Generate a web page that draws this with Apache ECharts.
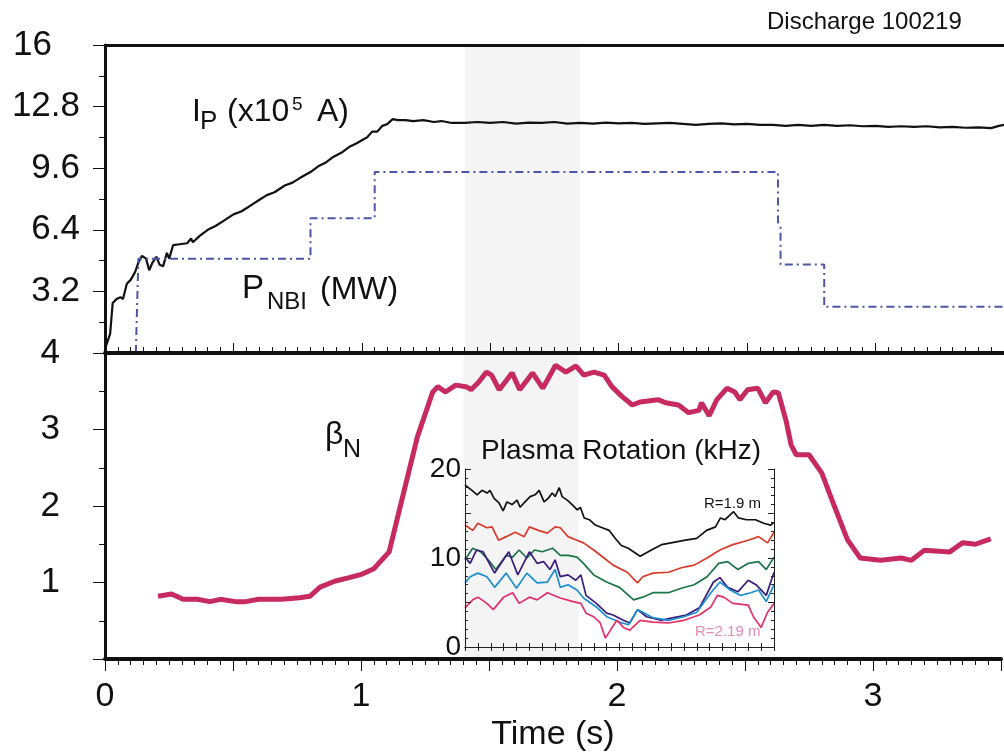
<!DOCTYPE html>
<html>
<head>
<meta charset="utf-8">
<title>Discharge 100219</title>
<script src="https://cdn.jsdelivr.net/npm/echarts@6/dist/echarts.min.js"></script>
<style>
  html, body { margin: 0; padding: 0; background: #fff; }
  #chart { width: 1004px; height: 753px; }
</style>
</head>
<body>
<div id="chart"></div>
<script>
// --- data ---
// plasma current, x10^5 A  [time s, value]
const ipData = [
  [0, 0.2], [0.01, 0.6], [0.02, 1.0], [0.03, 2.6], [0.045, 2.8], [0.06, 2.9], [0.07, 2.8],
  [0.085, 3.6], [0.1, 3.8], [0.117, 4.2], [0.13, 4.7], [0.144, 5.05], [0.16, 4.9], [0.172, 4.3],
  [0.185, 4.7], [0.2, 5.0], [0.212, 4.6], [0.226, 4.5], [0.241, 5.2], [0.25, 4.9], [0.265, 5.6],
  [0.29, 5.65], [0.32, 5.7], [0.335, 5.95], [0.342, 5.75], [0.37, 6.1], [0.4, 6.4], [0.43, 6.6],
  [0.46, 6.85], [0.5, 7.2], [0.53, 7.35], [0.56, 7.6], [0.6, 7.95], [0.63, 8.2], [0.66, 8.35],
  [0.7, 8.7], [0.73, 8.85], [0.76, 9.1], [0.8, 9.4], [0.83, 9.7], [0.86, 9.9], [0.89, 10.2],
  [0.92, 10.4], [0.95, 10.7], [0.98, 10.9], [1.0, 11.05], [1.02, 11.2], [1.04, 11.5], [1.06, 11.5],
  [1.08, 11.8], [1.1, 11.9], [1.12, 12.15], [1.14, 12.1], [1.17, 12.1], [1.2, 12.05], [1.24, 12.1],
  [1.28, 12.0], [1.31, 12.05], [1.35, 11.95], [1.4, 11.95], [1.45, 12.0], [1.5, 11.95], [1.55, 12.0],
  [1.6, 11.92], [1.65, 11.97], [1.7, 11.95], [1.75, 12.0], [1.8, 11.92], [1.85, 11.95], [1.9, 11.92],
  [1.95, 11.97], [2.0, 11.93], [2.05, 11.95], [2.1, 11.9], [2.15, 11.93], [2.2, 11.95], [2.25, 11.9],
  [2.3, 11.85], [2.35, 11.9], [2.4, 11.93], [2.45, 11.88], [2.5, 11.9], [2.55, 11.85], [2.6, 11.85],
  [2.65, 11.8], [2.7, 11.85], [2.75, 11.8], [2.8, 11.85], [2.85, 11.8], [2.9, 11.83], [2.95, 11.78],
  [3.0, 11.8], [3.05, 11.75], [3.1, 11.78], [3.15, 11.75], [3.2, 11.78], [3.25, 11.72], [3.3, 11.75],
  [3.35, 11.7], [3.4, 11.72], [3.45, 11.68], [3.48, 11.8], [3.5, 11.85]
];

// neutral beam power, MW
const pnbiData = [
  [0.12, 0], [0.13, 4.9], [0.8, 4.9], [0.8, 7.0], [1.05, 7.0], [1.05, 9.4], [2.62, 9.4],
  [2.62, 6.8], [2.63, 6.6], [2.63, 4.6], [2.8, 4.6], [2.8, 2.4], [3.5, 2.4]
];

// normalized beta
const betaNData = [
  [0.207, 0.82], [0.26, 0.85], [0.305, 0.78], [0.36, 0.78], [0.41, 0.75], [0.45, 0.78], [0.51, 0.75],
  [0.55, 0.75], [0.6, 0.78], [0.69, 0.78], [0.76, 0.8], [0.8, 0.82], [0.84, 0.94], [0.9, 1.02],
  [0.95, 1.06], [1.005, 1.11], [1.05, 1.18], [1.11, 1.4], [1.15, 1.95], [1.22, 2.9], [1.28, 3.49],
  [1.3, 3.56], [1.33, 3.49], [1.37, 3.58], [1.41, 3.56], [1.43, 3.52], [1.46, 3.62], [1.49, 3.75],
  [1.51, 3.71], [1.54, 3.52], [1.59, 3.74], [1.62, 3.52], [1.67, 3.74], [1.71, 3.54], [1.76, 3.84],
  [1.8, 3.75], [1.84, 3.83], [1.87, 3.71], [1.91, 3.75], [1.95, 3.71], [1.98, 3.56], [2.02, 3.43],
  [2.06, 3.32], [2.09, 3.36], [2.16, 3.39], [2.19, 3.35], [2.24, 3.32], [2.28, 3.22], [2.32, 3.25],
  [2.33, 3.35], [2.36, 3.18], [2.39, 3.39], [2.43, 3.54], [2.46, 3.49], [2.48, 3.39], [2.51, 3.52],
  [2.55, 3.54], [2.58, 3.35], [2.61, 3.49], [2.63, 3.48], [2.66, 3.12], [2.68, 2.8], [2.7, 2.67],
  [2.75, 2.67], [2.8, 2.43], [2.85, 1.99], [2.9, 1.56], [2.95, 1.32], [3.03, 1.29], [3.11, 1.32],
  [3.15, 1.29], [3.2, 1.42], [3.3, 1.4], [3.35, 1.52], [3.4, 1.5], [3.46, 1.57]
];

// plasma rotation (kHz), six radii, R=1.9 m at top to R=2.19 m at bottom
const rot1 = [
  [1.4, 18.2], [1.427, 17.6], [1.447, 17.1], [1.466, 17.6], [1.486, 17.3], [1.497, 17.6],
  [1.513, 16.7], [1.532, 16.2], [1.548, 15.3], [1.563, 16.3], [1.583, 16.0], [1.602, 16.5],
  [1.614, 15.7], [1.633, 16.3], [1.653, 16.9], [1.672, 17.1], [1.688, 17.6], [1.707, 16.3],
  [1.723, 16.7], [1.739, 17.3], [1.75, 16.9], [1.766, 17.9], [1.777, 16.9], [1.797, 16.5],
  [1.816, 16.0], [1.836, 15.4], [1.848, 15.7], [1.863, 14.5], [1.883, 14.3], [1.906, 13.7],
  [1.933, 13.4], [1.96, 13.1], [1.984, 12.2], [2.007, 11.4], [2.034, 11.1], [2.08, 10.2],
  [2.124, 10.9], [2.163, 11.5], [2.2, 11.7], [2.256, 12.0], [2.3, 12.2], [2.338, 13.1],
  [2.373, 13.5], [2.392, 14.5], [2.41, 14.3], [2.443, 15.2], [2.462, 14.5], [2.493, 14.3],
  [2.528, 14.3], [2.56, 13.9], [2.587, 13.7], [2.6, 14.0]
];
const rot2 = [
  [1.4, 13.7], [1.43, 13.1], [1.45, 13.9], [1.485, 13.4], [1.505, 13.5], [1.53, 12.0], [1.56, 12.4],
  [1.595, 12.9], [1.63, 12.4], [1.65, 13.5], [1.685, 13.1], [1.72, 12.8], [1.75, 13.5], [1.77, 13.4],
  [1.8, 12.4], [1.835, 12.0], [1.86, 11.7], [1.9, 10.9], [1.94, 10.0], [1.975, 9.2], [2.03, 8.4],
  [2.07, 7.2], [2.09, 7.9], [2.13, 8.3], [2.19, 8.4], [2.24, 8.9], [2.29, 9.2], [2.34, 10.0],
  [2.39, 10.9], [2.44, 11.5], [2.5, 12.0], [2.54, 12.4], [2.575, 11.7], [2.6, 12.9]
];
const rot3 = [
  [1.4, 9.8], [1.43, 11.1], [1.46, 10.7], [1.49, 9.8], [1.52, 8.7], [1.56, 10.3], [1.585, 10.1],
  [1.61, 10.9], [1.64, 10.0], [1.67, 10.9], [1.7, 10.7], [1.74, 11.1], [1.77, 10.3], [1.8, 10.3],
  [1.835, 10.1], [1.86, 9.4], [1.9, 8.1], [1.95, 7.3], [2.0, 6.7], [2.055, 5.3], [2.09, 5.6],
  [2.13, 6.1], [2.19, 6.1], [2.24, 6.6], [2.29, 7.0], [2.34, 7.9], [2.385, 9.4], [2.42, 9.6],
  [2.46, 8.7], [2.5, 9.4], [2.54, 9.6], [2.57, 8.7], [2.6, 10.1]
];
const rot4 = [
  [1.4, 10.1], [1.42, 9.4], [1.445, 10.9], [1.47, 10.7], [1.515, 8.3], [1.57, 10.7], [1.605, 8.1],
  [1.65, 10.7], [1.68, 9.4], [1.705, 9.6], [1.73, 8.7], [1.75, 9.8], [1.77, 7.9], [1.8, 8.1],
  [1.83, 7.5], [1.85, 8.1], [1.87, 5.8], [1.91, 4.9], [1.95, 3.8], [1.975, 3.6], [2.015, 3.0],
  [2.04, 2.7], [2.07, 4.2], [2.105, 3.4], [2.16, 3.0], [2.21, 3.3], [2.26, 3.6], [2.31, 4.4],
  [2.365, 7.3], [2.39, 7.8], [2.42, 6.7], [2.46, 6.2], [2.5, 7.5], [2.53, 7.0], [2.57, 5.8], [2.6, 8.4]
];
const rot5 = [
  [1.4, 7.2], [1.42, 7.9], [1.45, 8.3], [1.485, 7.9], [1.515, 6.7], [1.56, 8.3], [1.6, 6.6],
  [1.64, 8.3], [1.68, 7.2], [1.72, 7.3], [1.75, 8.7], [1.77, 6.7], [1.8, 7.0], [1.835, 6.4],
  [1.86, 5.5], [1.91, 4.5], [1.95, 3.4], [2.0, 2.8], [2.035, 2.5], [2.07, 4.2], [2.13, 3.3],
  [2.19, 3.0], [2.25, 3.4], [2.3, 3.9], [2.355, 6.1], [2.39, 7.3], [2.43, 6.4], [2.47, 5.8],
  [2.51, 6.1], [2.54, 6.4], [2.57, 5.1], [2.6, 7.0]
];
const rot6 = [
  [1.4, 4.4], [1.43, 5.3], [1.45, 5.6], [1.485, 4.9], [1.51, 4.2], [1.55, 5.6], [1.585, 6.1],
  [1.61, 4.9], [1.65, 5.6], [1.68, 5.3], [1.72, 6.1], [1.77, 5.5], [1.82, 5.1], [1.85, 4.9],
  [1.87, 3.8], [1.9, 3.4], [1.925, 2.7], [1.945, 1.0], [1.965, 1.9], [1.99, 3.0], [2.015, 2.2],
  [2.04, 1.9], [2.08, 3.0], [2.13, 2.8], [2.19, 2.7], [2.25, 3.0], [2.31, 3.6], [2.355, 4.5],
  [2.38, 5.8], [2.405, 5.6], [2.44, 4.9], [2.5, 4.7], [2.52, 3.4], [2.55, 2.2], [2.575, 3.9], [2.6, 4.9]
];
const rotColors = ['#111111', '#d93a2b', '#1b7549', '#3b1c7a', '#1b8fd2', '#e2306b'];

// time window shaded in grey
const shadeWindow = [1.4, 1.85];

const topTicks = [3.2, 6.4, 9.6, 12.8, 16];

const FONT = '"Liberation Sans", Arial, Helvetica, sans-serif';
const INK = '#111';

const myChart = echarts.init(document.getElementById('chart'));

const shade = {
  silent: true,
  itemStyle: { color: '#f4f4f4' },
  data: [[{ xAxis: shadeWindow[0] }, { xAxis: shadeWindow[1] }]]
};

// free text labels (sub/superscripts are separate pieces)
const txt = (text, x, y, size, color) => ({
  type: 'text',
  x: x,
  y: y,
  z: 20,
  style: {
    text: text,
    fill: color || INK,
    font: size + 'px ' + FONT,
    verticalAlign: 'middle'
  }
});

const option = {
  animation: false,
  backgroundColor: '#fff',
  grid: [
    { left: 105, top: 45, right: 0, height: 308 },
    { left: 105, top: 353, right: 0, height: 306 },
    { left: 465, top: 469, width: 309, height: 178 }
  ],
  xAxis: [
    {
      // divider between the two panels, ticks point up
      gridIndex: 0, type: 'value', min: 0, max: 3.5, interval: 0.5, position: 'bottom', z: 10,
      axisLine: { lineStyle: { color: INK, width: 4 } },
      axisTick: { inside: true, length: 10, lineStyle: { color: INK, width: 1 } },
      minorTick: { show: true, splitNumber: 10, length: 6, lineStyle: { color: INK, width: 1 } },
      axisLabel: { show: false },
      splitLine: { show: false }
    },
    {
      gridIndex: 0, type: 'value', min: 0, max: 3.5, position: 'top', z: 10,
      axisLine: { lineStyle: { color: INK, width: 3 } },
      axisTick: { show: false }, axisLabel: { show: false }, splitLine: { show: false }
    },
    {
      gridIndex: 1, type: 'value', min: 0, max: 3.5, interval: 0.5, position: 'bottom', z: 10,
      name: 'Time (s)', nameLocation: 'middle', nameGap: 59,
      nameTextStyle: { fontFamily: FONT, fontSize: 34, color: INK },
      axisLine: { lineStyle: { color: INK, width: 4 } },
      axisTick: { length: 12, lineStyle: { color: INK, width: 1 } },
      minorTick: { show: true, splitNumber: 10, length: 6, lineStyle: { color: INK, width: 1 } },
      axisLabel: {
        margin: 21, fontFamily: FONT, fontSize: 34, color: INK,
        formatter: v => (Math.abs(v - Math.round(v)) < 1e-6 && v < 3.4 ? String(Math.round(v)) : '')
      },
      splitLine: { show: false }
    },
    {
      gridIndex: 2, type: 'value', min: 1.4, max: 2.6, interval: 0.05, position: 'bottom', z: 10,
      axisLine: { lineStyle: { color: '#222', width: 1 } },
      axisTick: { inside: true, length: 4, lineStyle: { color: '#222' } },
      axisLabel: { show: false }, splitLine: { show: false }
    },
    {
      gridIndex: 2, type: 'value', min: 1.4, max: 2.6, interval: 0.05, position: 'top', z: 10,
      axisLine: { lineStyle: { color: '#222', width: 1 } },
      axisTick: { inside: true, length: 4, lineStyle: { color: '#222' } },
      axisLabel: { show: false }, splitLine: { show: false }
    }
  ],
  yAxis: [
    {
      gridIndex: 0, type: 'value', min: 0, max: 16, interval: 3.2, z: 10,
      axisLine: { show: true, lineStyle: { color: INK, width: 3 } },
      axisTick: { length: 12, lineStyle: { color: INK, width: 1 } },
      minorTick: { show: true, splitNumber: 2, length: 6, lineStyle: { color: INK, width: 1 } },
      axisLabel: {
        margin: 25, fontFamily: FONT, fontSize: 35, color: INK,
        formatter: v => {
          const r = Math.round(v * 10) / 10;
          if (topTicks.indexOf(r) < 0) return '';
          return r === 16 ? '{w|16}' : String(r);
        },
        rich: { w: { fontFamily: FONT, fontSize: 35, color: INK, padding: [0, 28, 0, 0] } }
      },
      splitLine: { show: false }
    },
    {
      gridIndex: 1, type: 'value', min: 0, max: 4, interval: 1, z: 10,
      axisLine: { show: true, lineStyle: { color: INK, width: 3 } },
      axisTick: { length: 12, lineStyle: { color: INK, width: 1 } },
      minorTick: { show: true, splitNumber: 2, length: 6, lineStyle: { color: INK, width: 1 } },
      axisLabel: {
        margin: 45, fontFamily: FONT, fontSize: 35, color: INK,
        formatter: v => (v === 0 ? '' : String(v))
      },
      splitLine: { show: false }
    },
    {
      gridIndex: 2, type: 'value', min: 0, max: 20, interval: 5, z: 10,
      axisLine: { show: true, lineStyle: { color: '#222', width: 1 } },
      axisTick: { inside: true, length: 6, lineStyle: { color: '#222' } },
      minorTick: { show: true, splitNumber: 5, length: 3, lineStyle: { color: '#222' } },
      axisLabel: {
        margin: 4, fontFamily: FONT, fontSize: 28, color: INK,
        formatter: v => (v % 10 === 0 ? String(v) : '')
      },
      splitLine: { show: false }
    },
    {
      gridIndex: 2, type: 'value', min: 0, max: 20, interval: 5, position: 'right', z: 10,
      axisLine: { show: true, lineStyle: { color: '#222', width: 1 } },
      axisTick: { inside: true, length: 6, lineStyle: { color: '#222' } },
      minorTick: { show: true, splitNumber: 5, length: 3, lineStyle: { color: '#222' } },
      axisLabel: { show: false },
      splitLine: { show: false }
    }
  ],
  series: [
    {
      name: 'Ip', type: 'line', xAxisIndex: 0, yAxisIndex: 0, data: ipData,
      showSymbol: false, lineStyle: { color: INK, width: 2.2 }, markArea: shade
    },
    {
      name: 'PNBI', type: 'line', xAxisIndex: 0, yAxisIndex: 0, data: pnbiData,
      showSymbol: false, lineStyle: { color: '#4b56a6', width: 2, type: [8, 4, 2, 4] }
    },
    {
      name: 'betaN', type: 'line', xAxisIndex: 2, yAxisIndex: 1, data: betaNData,
      showSymbol: false, lineStyle: { color: '#c62a5e', width: 5 }, markArea: shade
    }
  ].concat([rot1, rot2, rot3, rot4, rot5, rot6].map((d, i) => ({
    name: 'rot' + i, type: 'line', xAxisIndex: 3, yAxisIndex: 2, data: d, z: 3,
    showSymbol: false, lineStyle: { color: rotColors[i], width: 1.7 }
  }))),
  graphic: [
    txt('Discharge 100219', 767, 22, 24),
    txt('I', 192, 112, 32),
    txt('P', 200, 122, 26),
    txt('(x10', 227, 112, 32),
    txt('5', 292, 105, 19),
    txt('A)', 317, 112, 32),
    txt('P', 242, 289, 33),
    txt('NBI', 267, 302, 24),
    txt('(MW)', 320, 290, 32),
    txt('\u03b2', 325, 435, 32),
    txt('N', 343, 450, 25),
    txt('Plasma Rotation (kHz)', 481, 451, 28),
    txt('R=1.9 m', 704, 504, 15),
    txt('R=2.19 m', 695, 632, 15, '#e48bb8')
  ]
};

myChart.setOption(option);
</script>
</body>
</html>
